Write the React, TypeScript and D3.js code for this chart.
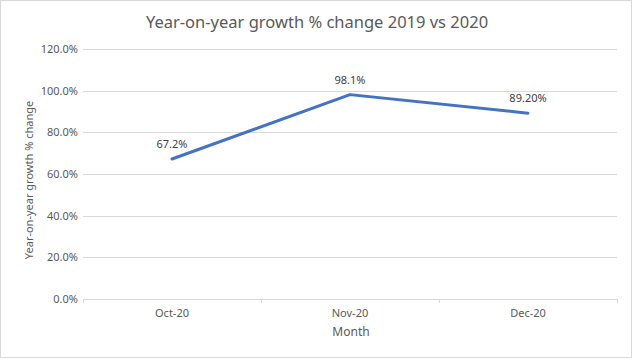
import React from "react";
import * as d3 from "d3";

const months = ["Oct-20", "Nov-20", "Dec-20"];
const growth = [0.672, 0.981, 0.892];
const pointLabels = ["67.2%", "98.1%", "89.20%"];
const yTicks = [0, 0.2, 0.4, 0.6, 0.8, 1.0, 1.2];

const W = 633;
const H = 358;
const margin = { top: 49, right: 16, bottom: 59, left: 83 };
const font = "'Noto Sans', 'Open Sans', sans-serif";
const textColor = "#595959";

export default function App() {
  const x = d3
    .scaleBand<string>()
    .domain(months)
    .range([margin.left, W - margin.right]);
  const y = d3
    .scaleLinear()
    .domain([0, 1.2])
    .range([H - margin.bottom, margin.top]);

  const pts: [number, number][] = months.map((m, i) => [
    (x(m) as number) + x.bandwidth() / 2,
    y(growth[i]),
  ]);
  const line = d3.line();
  const fmt = d3.format(".1%");

  // tick positions at band edges
  const edges = [...months.map((m) => x(m) as number), W - margin.right];

  return (
    <div style={{ position: "fixed", left: 0, top: 0 }}>
      <svg width={W} height={H} style={{ display: "block", background: "#fff" }}>
        <rect x={0.5} y={0.5} width={W - 2} height={H - 1} fill="#fff" stroke="#d9d9d9" />
        <text
          x={317}
          y={28}
          textAnchor="middle"
          fontFamily={font}
          fontSize={16.5}
          fill={textColor}
        >
          Year-on-year growth % change 2019 vs 2020
        </text>

        {yTicks.map((t) => (
          <g key={t}>
            <line
              x1={margin.left}
              x2={W - margin.right}
              y1={Math.round(y(t)) + 0.5}
              y2={Math.round(y(t)) + 0.5}
              stroke="#d9d9d9"
            />
            <text
              x={margin.left - 5}
              y={y(t) + 4}
              textAnchor="end"
              fontFamily={font}
              fontSize={11}
              fill={textColor}
            >
              {fmt(t)}
            </text>
          </g>
        ))}

        {edges.map((e, i) => (
          <line
            key={i}
            x1={Math.round(e) + 0.5}
            x2={Math.round(e) + 0.5}
            y1={y(0)}
            y2={y(0) + 4}
            stroke="#d9d9d9"
          />
        ))}

        {months.map((m) => (
          <text
            key={m}
            x={(x(m) as number) + x.bandwidth() / 2}
            y={y(0) + 18}
            textAnchor="middle"
            fontFamily={font}
            fontSize={11}
            fill={textColor}
          >
            {m}
          </text>
        ))}

        <text
          x={351}
          y={336}
          textAnchor="middle"
          fontFamily={font}
          fontSize={12}
          fill={textColor}
        >
          Month
        </text>

        <text
          transform={`translate(33, ${(y(0) + y(1.2)) / 2 + 6}) rotate(-90)`}
          textAnchor="middle"
          fontFamily={font}
          fontSize={11}
          fill={textColor}
        >
          Year-on-year growth % change
        </text>

        <path
          d={line(pts) ?? ""}
          fill="none"
          stroke="#4472c4"
          strokeWidth={3}
          strokeLinejoin="round"
          strokeLinecap="round"
        />

        {pts.map(([px, py], i) => (
          <text
            key={i}
            x={px}
            y={py - 11}
            textAnchor="middle"
            fontFamily={font}
            fontSize={11}
            fill="#404040"
          >
            {pointLabels[i]}
          </text>
        ))}
      </svg>
    </div>
  );
}
